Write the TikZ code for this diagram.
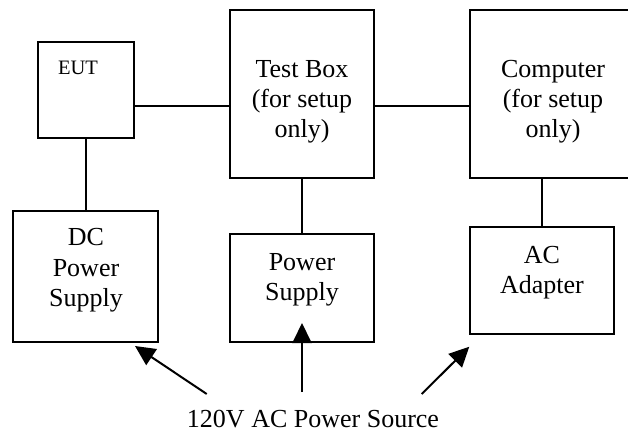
\documentclass[tikz,border=0pt]{standalone}
\usepackage{fontspec}
\setmainfont{Liberation Serif}
\usetikzlibrary{arrows.meta}
\begin{document}
\begin{tikzpicture}[x=1pt,y=-1pt,
  box/.style={draw, line width=2pt, inner sep=0pt},
  txt/.style={font=\fontsize{26}{30}\selectfont, anchor=base, inner sep=0pt},
  smalltxt/.style={font=\fontsize{20.5}{24}\selectfont, anchor=base, inner sep=0pt},
  link/.style={line width=2pt},
  feed/.style={line width=2pt, -{Triangle[length=20pt,width=19pt]}}]
\useasboundingbox (0,0) rectangle (628,432);
\clip (0,0) rectangle (628,432);
% boxes
\node[box, minimum width=96pt, minimum height=95.7pt] (eut) at (86,90.2) {};
\node[box, minimum width=144pt, minimum height=167.7pt] (test) at (302,93.9) {};
\node[box, minimum width=166pt, minimum height=167.7pt] (comp) at (553,93.9) {};
\node[box, minimum width=145pt, minimum height=131pt] (dc) at (85.5,276.2) {};
\node[box, minimum width=144pt, minimum height=107.7pt] (ps) at (302,287.8) {};
\node[box, minimum width=144pt, minimum height=107.3pt] (ac) at (542,280.3) {};
% labels
\node[smalltxt] (eutl) at (78,74) {EUT};
\node[txt] (test1) at (302,77) {Test Box};
\node[txt] (test2) at (302,107) {(for setup};
\node[txt] (test3) at (302,137) {only)};
\node[txt] (comp1) at (553,77) {Computer};
\node[txt] (comp2) at (553,107) {(for setup};
\node[txt] (comp3) at (553,137) {only)};
\node[txt] (dc1) at (86,245) {DC};
\node[txt] (dc2) at (86,276) {Power};
\node[txt] (dc3) at (86,306) {Supply};
\node[txt] (ps1) at (302,270) {Power};
\node[txt] (ps2) at (302,300) {Supply};
\node[txt] (ac1) at (542,263) {AC};
\node[txt] (ac2) at (542,293) {Adapter};
\node[txt] (src) at (313,427) {120V AC Power Source};
% connectors
\coordinate (wire) at (0,106);
\draw[link] (eut.east |- wire) -- (test.west |- wire);
\draw[link] (test.east |- wire) -- (comp.west |- wire);
\draw[link] (eut.south) -- (eut.south |- dc.north);
\draw[link] (test.south) -- (ps.north);
\draw[link] (ac.north |- comp.south) -- (ac.north);
% power feeds
\coordinate (s1) at (206.7,394);
\coordinate (t1) at (135,346);
\coordinate (s2) at (302,392);
\coordinate (t2) at (302,323);
\coordinate (s3) at (421.7,394);
\coordinate (t3) at (469.3,346.7);
\draw[feed] (s1) -- (t1);
\draw[feed] (s2) -- (t2);
\draw[feed] (s3) -- (t3);
\end{tikzpicture}
\end{document}
